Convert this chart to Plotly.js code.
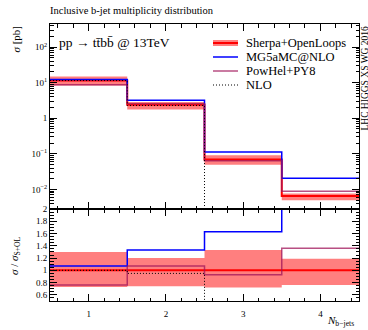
<!DOCTYPE html>
<html>
<head>
<meta charset="utf-8">
<script src="https://cdn.plot.ly/plotly-3.0.1.min.js"></script>
<style>html,body{margin:0;padding:0;background:#fff;}#chart{width:368px;height:330px;}</style>
</head>
<body>
<div id="chart"></div>
<script>
// ---- data ----
const binEdges = [0.5, 1.5, 2.5, 3.5, 4.5];
const binCenters = [1, 2, 3, 4];
const sherpa = [11.5, 2.4, 0.069, 0.0065];          // sigma [pb], Sherpa+OpenLoops
const sherpaBandLow = [0.73, 0.74, 0.72, 0.76];     // ratio to Sherpa
const sherpaBandHigh = [1.30, 1.20, 1.33, 1.19];
const mgRatio = [1.07, 1.33, 1.63, 3.15];           // MG5aMC@NLO / Sherpa
const powhelRatio = [0.76, 1.07, 0.93, 1.36];       // PowHel+PY8 / Sherpa
const nloRatio = [1.00, 0.95];                      // NLO / Sherpa (first two bins)
const ratioTicks = [0.6, 0.8, 1, 1.2, 1.4, 1.6, 1.8, 2];
const ratioTickText = ['0.6', '0.8', '1', '1.2', '1.4', '1.6', '1.8', '2'];
const xsTicks = [0.01, 0.1, 1, 10, 100];
const xsTickText = ['10<sup>\u22122</sup>', '10<sup>\u22121</sup>', '1', '10<sup>1</sup>', '10<sup>2</sup>'];
const xTicks = [1, 2, 3, 4];

// ---- helpers ----
const stepY = v => v.concat([v[v.length - 1]]);
const mul = (a, b) => a.map((x, i) => x * b[i]);
const FONT = 'Liberation Serif';
const RED = '#ff0000', BAND = 'rgba(255,0,0,0.5)', BLUE = '#0000ff', POW = 'rgba(160,20,90,0.75)';
const DOTS = '1px,2px';

const sherpaLow = mul(sherpa, sherpaBandLow);
const sherpaHigh = mul(sherpa, sherpaBandHigh);
const mg = mul(sherpa, mgRatio);
const powhel = mul(sherpa, powhelRatio);
const nlo = mul(sherpa.slice(0, nloRatio.length), nloRatio);
const ones = sherpa.map(() => 1);

function stepTrace(y, xa, ya, line, extra) {
  return Object.assign({
    type: 'scatter', mode: 'lines', x: binEdges.slice(0, y.length), y: y,
    xaxis: xa, yaxis: ya, line: Object.assign({shape: 'hv'}, line),
    showlegend: false, hoverinfo: 'skip'
  }, extra || {});
}

const traces = [
  // top panel
  stepTrace(stepY(sherpaLow), 'x2', 'y2', {width: 0, color: BAND}),
  stepTrace(stepY(sherpaHigh), 'x2', 'y2', {width: 0, color: BAND}, {fill: 'tonexty', fillcolor: BAND}),
  stepTrace(stepY(sherpa), 'x2', 'y2', {width: 2, color: RED}),
  stepTrace(stepY(mg), 'x2', 'y2', {width: 1.5, color: BLUE}),
  stepTrace(stepY(powhel), 'x2', 'y2', {width: 1.5, color: POW}),
  stepTrace(nlo.concat([1e-6]), 'x2', 'y2', {width: 1, color: '#000', dash: DOTS}),
  // ratio panel
  stepTrace(stepY(sherpaBandLow), 'x', 'y', {width: 0, color: BAND}),
  stepTrace(stepY(sherpaBandHigh), 'x', 'y', {width: 0, color: BAND}, {fill: 'tonexty', fillcolor: BAND}),
  stepTrace(stepY(ones), 'x', 'y', {width: 2, color: RED}),
  stepTrace(stepY(mgRatio), 'x', 'y', {width: 1.5, color: BLUE}),
  stepTrace(stepY(powhelRatio), 'x', 'y', {width: 1.5, color: POW}),
  stepTrace(nloRatio.concat([0]), 'x', 'y', {width: 1, color: '#000', dash: DOTS})
];

// log minor ticks
const logMinor = [];
for (let d = -3; d <= 2; d++) for (let k = 2; k <= 9; k++) logMinor.push(k * Math.pow(10, d));

const L = 50, R = 359, T = 24, B = 301;
const px = v => (v - L) / (R - L);
const py = v => (B - v) / (B - T);

const xCommon = {
  range: [0.5, 4.5], showgrid: false, zeroline: false, showline: true, linecolor: '#000', linewidth: 1,
  mirror: 'ticks', ticks: 'inside', ticklen: 7, tickcolor: '#000', tickwidth: 1,
  tickmode: 'array', tickvals: xTicks,
  minor: {tickmode: 'linear', tick0: 0, dtick: 0.2, ticks: 'inside', ticklen: 3.5, tickcolor: '#000', showgrid: false},
  tickfont: {family: FONT, size: 9, color: '#000'}
};

const layout = {
  width: 368, height: 330,
  margin: {l: L, r: 368 - R, t: T, b: 330 - B},
  paper_bgcolor: '#fff', plot_bgcolor: '#fff',
  font: {family: FONT, color: '#000'},
  showlegend: false,
  title: {text: 'Inclusive b-jet multiplicity distribution', font: {family: FONT, size: 10.5, color: '#000'},
          x: 50 / 368, xanchor: 'left', xref: 'container', y: 1 - 10.5 / 330, yanchor: 'middle', yref: 'container'},
  xaxis: Object.assign({}, xCommon, {domain: [0, 1], anchor: 'y', ticklabelstandoff: 4}),
  xaxis2: Object.assign({}, xCommon, {domain: [0, 1], anchor: 'y2', matches: 'x', showticklabels: false}),
  yaxis: {
    domain: [0, py(209)], range: [0.5, 2.0], anchor: 'x',
    showgrid: false, zeroline: false, showline: true, linecolor: '#000', linewidth: 1,
    mirror: 'ticks', ticks: 'inside', ticklen: 7, tickcolor: '#000',
    tickmode: 'array', tickvals: ratioTicks, ticktext: ratioTickText,
    minor: {tickmode: 'linear', tick0: 0, dtick: 0.05, ticks: 'inside', ticklen: 3.5, tickcolor: '#000', showgrid: false},
    tickfont: {family: FONT, size: 9, color: '#000'}
  },
  yaxis2: {
    type: 'log', domain: [py(209), 1], range: [-2.55, 2.65], anchor: 'x2',
    showgrid: false, zeroline: false, showline: true, linecolor: '#000', linewidth: 1,
    mirror: 'ticks', ticks: 'inside', ticklen: 7, tickcolor: '#000',
    tickmode: 'array', tickvals: xsTicks, ticktext: xsTickText,
    minor: {tickmode: 'array', tickvals: logMinor, ticks: 'inside', ticklen: 3.5, tickcolor: '#000', showgrid: false},
    tickfont: {family: FONT, size: 9, color: '#000'}
  },
  shapes: [
    // legend samples (decoration)
    {type: 'rect', xref: 'paper', yref: 'paper', x0: px(213), x1: px(238), y0: py(46), y1: py(40), fillcolor: BAND, line: {width: 0}},
    {type: 'line', xref: 'paper', yref: 'paper', x0: px(213), x1: px(238), y0: py(43), y1: py(43), line: {color: RED, width: 2}},
    {type: 'line', xref: 'paper', yref: 'paper', x0: px(213), x1: px(238), y0: py(57), y1: py(57), line: {color: BLUE, width: 1.5}},
    {type: 'line', xref: 'paper', yref: 'paper', x0: px(213), x1: px(238), y0: py(71), y1: py(71), line: {color: POW, width: 1.5}},
    {type: 'line', xref: 'paper', yref: 'paper', x0: px(213), x1: px(238), y0: py(85), y1: py(85), line: {color: '#000', width: 1, dash: DOTS}}
  ],
  annotations: [
    {text: 'Sherpa+OpenLoops', xref: 'paper', yref: 'paper', x: px(244), y: py(43), xanchor: 'left', yanchor: 'middle', showarrow: false, font: {family: FONT, size: 12.5}},
    {text: 'MG5aMC@NLO', xref: 'paper', yref: 'paper', x: px(244), y: py(57), xanchor: 'left', yanchor: 'middle', showarrow: false, font: {family: FONT, size: 12.5}},
    {text: 'PowHel+PY8', xref: 'paper', yref: 'paper', x: px(244), y: py(71), xanchor: 'left', yanchor: 'middle', showarrow: false, font: {family: FONT, size: 12.5}},
    {text: 'NLO', xref: 'paper', yref: 'paper', x: px(244), y: py(85), xanchor: 'left', yanchor: 'middle', showarrow: false, font: {family: FONT, size: 12.5}},
    {text: 'pp \u2192 tt\u0304bb\u0304 @ 13TeV', xref: 'paper', yref: 'paper', x: px(57), y: py(43), xanchor: 'left', yanchor: 'middle', showarrow: false, font: {family: FONT, size: 13.5}},
    {text: '<i>\u03c3</i> [pb]', xref: 'paper', yref: 'paper', x: px(15), y: py(24), xanchor: 'center', yanchor: 'top', textangle: -90, showarrow: false, font: {family: FONT, size: 11}},
    {text: '<i>\u03c3</i> / <i>\u03c3</i><sub>S+OL</sub>', xref: 'paper', yref: 'paper', x: px(15), y: py(256), xanchor: 'center', yanchor: 'middle', textangle: -90, showarrow: false, font: {family: FONT, size: 11}},
    {text: '<i>N</i><sub>b\u2212jets</sub>', xref: 'paper', yref: 'paper', x: px(356), y: py(321), xanchor: 'right', yanchor: 'middle', showarrow: false, font: {family: FONT, size: 11}},
    {text: 'LHC HIGGS XS WG 2016', xref: 'paper', yref: 'paper', x: px(364), y: py(24), xanchor: 'center', yanchor: 'top', textangle: -90, showarrow: false, font: {family: FONT, size: 9.5}}
  ]
};

Plotly.newPlot('chart', traces, layout, {staticPlot: true, displayModeBar: false});
</script>
</body>
</html>
